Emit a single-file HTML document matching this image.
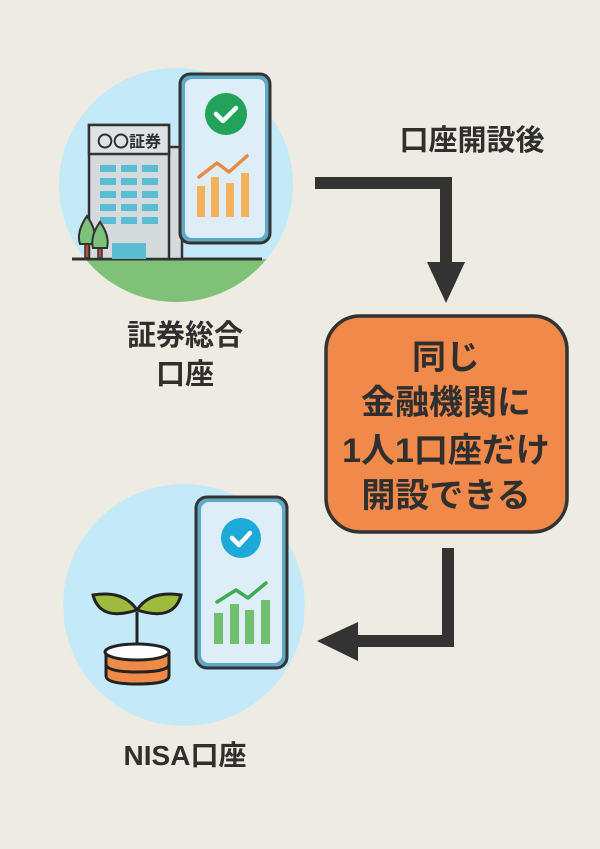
<!DOCTYPE html>
<html><head><meta charset="utf-8"><style>
html,body{margin:0;padding:0;background:#eeebe2;}
svg{display:block}
text{font-family:"Liberation Sans","Noto Sans CJK JP",sans-serif;font-weight:bold;fill:#2f2f2f;}
</style></head><body>
<svg width="600" height="849" viewBox="0 0 600 849" xmlns="http://www.w3.org/2000/svg">
<defs>
<clipPath id="c1"><circle cx="176" cy="185" r="117"/></clipPath>
</defs>
<rect width="600" height="849" fill="#eeebe2"/>
<!-- top circle -->
<circle cx="176" cy="185" r="117" fill="#c4eaf8"/>
<g clip-path="url(#c1)">
<rect x="40" y="259" width="280" height="60" fill="#7fc277"/>
</g>
<line x1="72" y1="259" x2="262" y2="259" stroke="#333" stroke-width="3"/>
<!-- building -->
<rect x="166" y="147" width="16" height="112" fill="#d5dadd" stroke="#333" stroke-width="2.5"/>
<rect x="89" y="125" width="80" height="134" fill="#d5dadd" stroke="#333" stroke-width="2.5"/>
<rect x="89" y="125" width="80" height="29" fill="#dfe2e4" stroke="#333" stroke-width="2.5"/>
<text x="129" y="147" font-size="16" text-anchor="middle" font-weight="normal">〇〇証券</text>
<g fill="#5bbdd4">
<rect x="100" y="165" width="16" height="7"/><rect x="121" y="165" width="16" height="7"/><rect x="142" y="165" width="16" height="7"/>
<rect x="100" y="178" width="16" height="7"/><rect x="121" y="178" width="16" height="7"/><rect x="142" y="178" width="16" height="7"/>
<rect x="100" y="191" width="16" height="7"/><rect x="121" y="191" width="16" height="7"/><rect x="142" y="191" width="16" height="7"/>
<rect x="100" y="204" width="16" height="7"/><rect x="121" y="204" width="16" height="7"/><rect x="142" y="204" width="16" height="7"/>
<rect x="100" y="217" width="16" height="7"/><rect x="121" y="217" width="16" height="7"/><rect x="142" y="217" width="16" height="7"/>
<rect x="112" y="243" width="34" height="16"/>
</g>
<!-- trees -->
<rect x="85" y="240" width="4" height="18" fill="#b5523a" stroke="#333" stroke-width="1.5"/>
<rect x="98" y="242" width="4" height="16" fill="#b5523a" stroke="#333" stroke-width="1.5"/>
<path d="M87 216 Q76 232 80 244 L94 244 Q98 232 87 216Z" fill="#7cc37a" stroke="#333" stroke-width="2"/>
<path d="M100 222 Q90 236 93 248 L107 248 Q110 236 100 222Z" fill="#7cc37a" stroke="#333" stroke-width="2"/>
<!-- phone 1 -->
<rect x="180" y="74" width="90" height="169" rx="10" fill="#5ea9c6" stroke="#333" stroke-width="3"/>
<rect x="185" y="79" width="80" height="159" rx="7" fill="#ddeef8"/>
<circle cx="226" cy="114" r="21" fill="#22a35a"/>
<path d="M216 114 L223 121 L236 108" fill="none" stroke="#fff" stroke-width="4.5" stroke-linecap="round" stroke-linejoin="round"/>
<g fill="#f5b25c">
<rect x="197" y="186" width="8" height="31"/><rect x="211" y="177" width="8" height="40"/><rect x="226" y="183" width="8" height="34"/><rect x="241" y="173" width="8" height="44"/>
</g>
<path d="M199 177 L217 163 L229 172 L247 156" fill="none" stroke="#e98a45" stroke-width="3.5" stroke-linecap="round" stroke-linejoin="round"/>
<!-- labels -->
<text x="185" y="345" font-size="29" text-anchor="middle">証券総合</text>
<text x="185" y="384" font-size="29" text-anchor="middle">口座</text>
<text x="472" y="150" font-size="29" text-anchor="middle">口座開設後</text>
<!-- top arrow -->
<path d="M315 177 H452 V262 H465 L446 303 L427 262 H440 V189 H315 Z" fill="#333"/>
<!-- orange box -->
<rect x="326" y="316" width="241" height="216" rx="34" fill="#f0894a" stroke="#333" stroke-width="3.5"/>
<g font-size="34" text-anchor="middle">
<text x="446" y="369">同じ</text>
<text x="446" y="414">金融機関に</text>
<text x="446" y="462">1人1口座だけ</text>
<text x="446" y="507">開設できる</text>
</g>
<!-- bottom arrow -->
<path d="M442 548 H454 V647 H358 V661 L317 641 L358 622 V635 H442 Z" fill="#333"/>
<!-- bottom circle -->
<circle cx="184" cy="605" r="121" fill="#c4eaf8"/>
<rect x="196" y="497" width="91" height="171" rx="11" fill="#5ea9c6" stroke="#333" stroke-width="3"/>
<rect x="201" y="502" width="81" height="161" rx="8" fill="#ddeef8"/>
<circle cx="241" cy="538" r="20" fill="#1eaad8"/>
<path d="M232 538 L239 545 L250 533" fill="none" stroke="#fff" stroke-width="4.5" stroke-linecap="round" stroke-linejoin="round"/>
<g fill="#6fbf6d">
<rect x="214" y="613" width="9" height="31"/><rect x="230" y="604" width="9" height="40"/><rect x="245" y="610" width="9" height="34"/><rect x="261" y="600" width="9" height="44"/>
</g>
<path d="M217 602 L236 590 L248 598 L266 583" fill="none" stroke="#3fab50" stroke-width="3.5" stroke-linecap="round" stroke-linejoin="round"/>
<!-- plant -->
<path d="M137 612 V650" stroke="#222" stroke-width="3"/>
<path d="M137 610 Q124 590 93 595 Q100 622 137 610Z" fill="#9dbb3c" stroke="#222" stroke-width="3"/>
<path d="M137 610 Q150 590 181 595 Q174 622 137 610Z" fill="#9dbb3c" stroke="#222" stroke-width="3"/>
<path d="M106 652 V676 Q106 684 137 684 Q169 684 169 676 V652" fill="#ef8a48" stroke="#222" stroke-width="3"/>
<path d="M106 664 Q106 672 137 672 Q169 672 169 664" fill="none" stroke="#222" stroke-width="3"/>
<ellipse cx="137" cy="652" rx="32" ry="8" fill="#fff" stroke="#222" stroke-width="3"/>
<text x="185" y="765" font-size="28" text-anchor="middle">NISA口座</text>
</svg>
</body></html>
